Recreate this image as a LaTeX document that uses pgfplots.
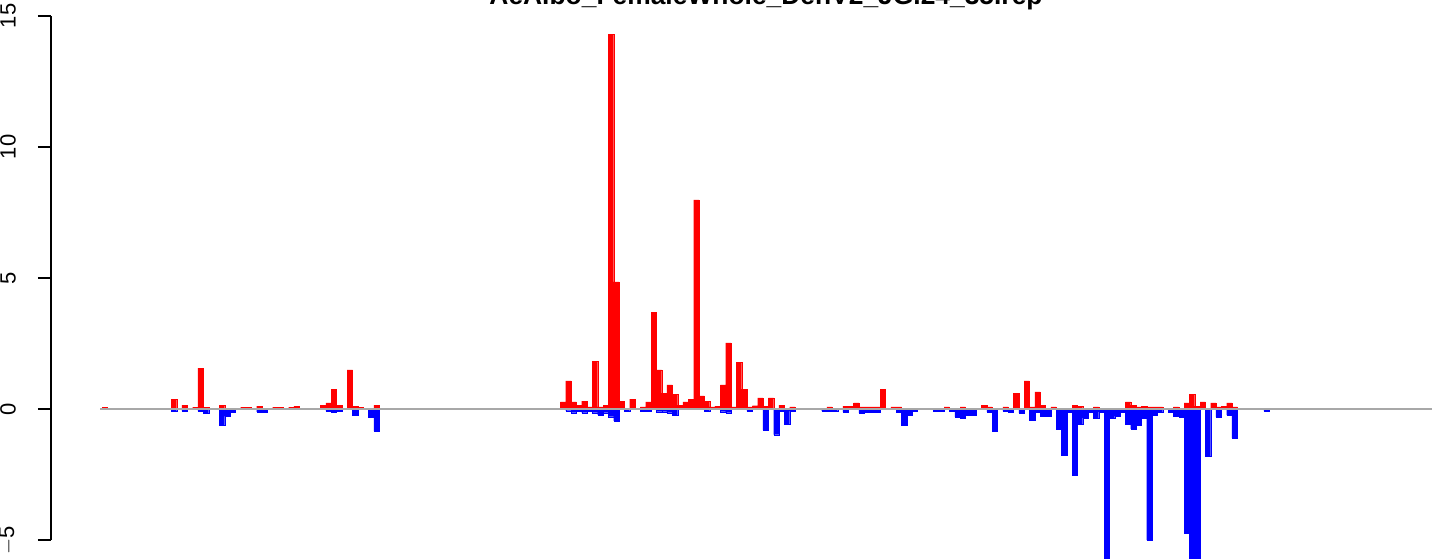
\documentclass[border=0pt]{standalone}
\usepackage{fontspec}
\setmainfont{Liberation Sans}
\usepackage{pgfplots}
\pgfplotsset{compat=1.18}
\definecolor{rred}{HTML}{FF0000}
\definecolor{rblue}{HTML}{0000FF}
\definecolor{rgray}{HTML}{A8A8A8}
\begin{document}
\begin{tikzpicture}
\begin{axis}[
  scale only axis, width=1393bp, height=559bp,
  xmin=-10.07, xmax=251.28, ymin=-5.725, ymax=15.61,
  clip=false,
  axis x line=none, axis y line*=left,
  y axis line style={draw=none},
  ytick={-5,0,5,10,15},
  tick align=outside, major tick length=13bp,
  ytick style={line width=1.2bp, black},
  /pgf/number format/assume math mode=true,
  yticklabel style={rotate=90, anchor=south, inner sep=0pt, yshift=22bp, font=\fontsize{22bp}{26bp}\selectfont},
  yticklabel={\ifdim\tick pt<0pt $-$\pgfmathparse{abs(\tick)}\pgfmathprintnumber{\pgfmathresult}\else\pgfmathprintnumber{\tick}\fi},
]
\addplot[ybar, bar width=1, fill=rred, draw=rred, line width=0.1bp] coordinates {
(0,0.07) (13,0.37) (15,0.15) (17,0.07) (18,1.56) (19,0.07) (22,0.15) (26,0.07) (27,0.07)
(29,0.11) (32,0.07) (33,0.07) (35,0.07) (36,0.11) (41,0.15) (42,0.23) (43,0.76) (44,0.15)
(46,1.49) (47,0.11) (48,0.07) (51,0.15)
(86,0.27) (87,1.07) (88,0.27) (89,0.15) (90,0.30) (91,0.08) (92,1.83) (93,0.08) (94,0.15)
(95,14.31) (96,4.85) (97,0.30) (99,0.38) (101,0.08) (102,0.27) (103,3.70) (104,1.49)
(105,0.61) (106,0.92) (107,0.57) (108,0.15) (109,0.27) (110,0.38) (111,7.98) (112,0.50)
(113,0.30) (114,0.08) (115,0.11) (116,0.92) (117,2.52) (118,0.08) (119,1.79) (120,0.76)
(121,0.08) (122,0.13) (123,0.42) (124,0.11) (125,0.42) (127,0.15) (129,0.08)
(136,0.08) (139,0.11) (140,0.11) (141,0.23) (142,0.08) (143,0.08) (144,0.08) (145,0.08)
(146,0.76) (148,0.08) (149,0.08) (158,0.08) (161,0.08) (165,0.15) (166,0.08) (169,0.08)
(171,0.61) (173,1.07) (174,0.08) (175,0.65) (176,0.15) (178,0.08) (182,0.15) (183,0.11)
(186,0.08) (192,0.27) (193,0.15) (194,0.08) (195,0.11) (196,0.08) (197,0.08) (198,0.08)
(201,0.08) (203,0.23) (204,0.57) (205,0.11) (206,0.27) (208,0.23) (209,0.08) (210,0.11)
(211,0.23) (212,0.08)
};
\addplot[ybar, bar width=1, fill=rblue, draw=rblue, line width=0.1bp] coordinates {
(13,-0.08) (15,-0.08) (18,-0.08) (19,-0.15) (22,-0.61) (23,-0.27) (24,-0.11) (29,-0.11)
(30,-0.11) (42,-0.08) (43,-0.11) (44,-0.08) (47,-0.23) (50,-0.30) (51,-0.84)
(87,-0.06) (88,-0.14) (89,-0.07) (90,-0.14) (91,-0.07) (92,-0.14) (93,-0.22) (94,-0.14)
(95,-0.29) (96,-0.45) (98,-0.07) (101,-0.07) (102,-0.07) (104,-0.10) (105,-0.10)
(106,-0.14) (107,-0.25) (113,-0.07) (116,-0.10) (117,-0.14) (121,-0.08) (124,-0.80)
(126,-0.98) (127,-0.08) (128,-0.57) (129,-0.08) (135,-0.08) (136,-0.08) (137,-0.08)
(139,-0.11) (142,-0.15) (143,-0.11) (144,-0.11) (145,-0.11) (149,-0.11) (150,-0.61)
(151,-0.23) (152,-0.08) (156,-0.08) (157,-0.08) (159,-0.08) (160,-0.30) (161,-0.34)
(162,-0.23) (163,-0.23) (166,-0.11) (167,-0.84) (169,-0.08) (170,-0.11) (172,-0.15)
(174,-0.42) (175,-0.11) (176,-0.27) (177,-0.27) (179,-0.76) (180,-1.76) (181,-0.11)
(182,-2.52) (183,-0.57) (184,-0.34) (185,-0.11) (186,-0.34) (187,-0.11) (188,-6.5)
(189,-0.34) (190,-0.27) (191,-0.11) (192,-0.57) (193,-0.76) (194,-0.61) (195,-0.34)
(196,-5.00) (197,-0.23) (198,-0.11) (200,-0.11) (201,-0.27) (202,-0.30) (203,-4.73)
(204,-6.5) (205,-6.5) (207,-1.79) (209,-0.30) (211,-0.23) (212,-1.10) (218,-0.08)
};
\addplot[rgray, line width=2bp] coordinates {(-0.875,0) (249.03,0)};
\draw[line width=1.2bp] (axis cs:-10.07,-5) -- (axis cs:-10.07,15);
\node[anchor=base, font=\fontsize{26.4bp}{30bp}\selectfont\bfseries] at (axis cs:124.08,15.42) {AeAlbo\_FemaleWhole\_DenV2\_JG.24\_35.rep};
\coordinate (bl) at (rel axis cs:0,0);
\coordinate (tr) at (rel axis cs:1,1);
\end{axis}
\pgfresetboundingbox
\path ([xshift=-51bp]bl) rectangle (tr);
\end{tikzpicture}
\end{document}
